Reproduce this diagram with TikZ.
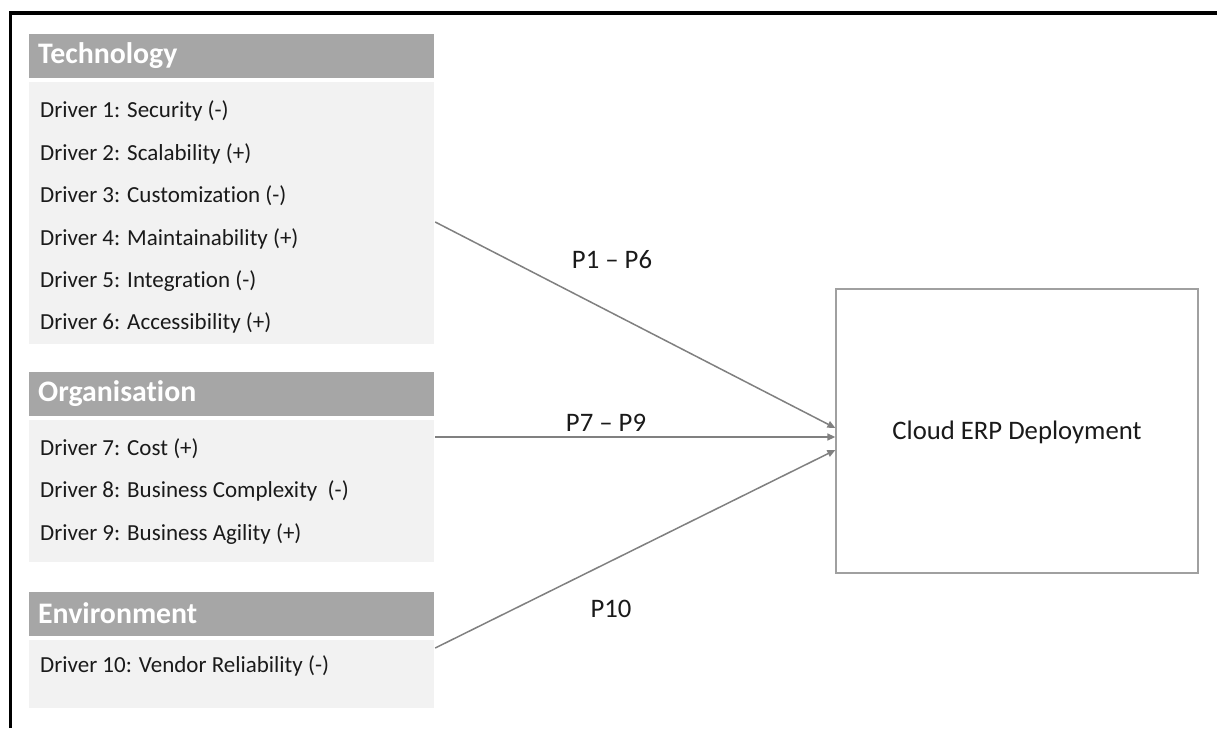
\documentclass[tikz,border=0pt]{standalone}
\usepackage{fontspec}
\setmainfont{Carlito}[Ligatures=NoCommon]
\usetikzlibrary{arrows.meta}
\definecolor{hdrgray}{HTML}{A6A6A6}
\definecolor{bodygray}{HTML}{F2F2F2}
\definecolor{arrgray}{HTML}{808080}
\definecolor{boxgray}{HTML}{A0A0A0}
\definecolor{txt}{HTML}{1A1A1A}
\tikzset{
  hdr/.style={fill=hdrgray, draw=none, minimum width=405pt, minimum height=44pt, inner sep=0pt},
  hdrtext/.style={anchor=west, inner sep=0pt, text=white, font=\fontsize{29.8}{34}\selectfont\bfseries},
  body/.style={fill=bodygray, draw=none, minimum width=405pt, inner sep=0pt},
  drv/.style={anchor=west, inner sep=0pt, text=txt, font=\fontsize{23}{27}\selectfont},
  lbl/.style={inner sep=0pt, text=txt, font=\fontsize{26.7}{30}\selectfont},
  conn/.style={draw=arrgray, line width=1.5pt, -{Triangle[length=8pt,width=7pt]}},
  target/.style={draw=boxgray, line width=1.3pt, fill=white, minimum width=362pt, minimum height=284pt, inner sep=0pt}
}
\begin{document}
\begin{tikzpicture}[x=1pt,y=-1pt]
\useasboundingbox[fill=white] (0,0) rectangle (1217,728);
% frame
\draw[line width=3.5pt, black] (10.5,728) -- (10.5,13) -- (1217,13);
% Technology
\node[hdr] (tech) at (231.5,56) {};
\node[hdrtext] (techt) at (38,56) {Technology};
\node[body, minimum height=262pt] (techbody) at (231.5,213) {};
\node[drv] (d1) at (40,111) {Driver 1: Security (-)};
\node[drv] (d2) at (40,154) {Driver 2: Scalability (+)};
\node[drv] (d3) at (40,196) {Driver 3: Customization (-)};
\node[drv] (d4) at (40,239) {Driver 4: Maintainability (+)};
\node[drv] (d5) at (40,281) {Driver 5: Integration (-)};
\node[drv] (d6) at (40,323) {Driver 6: Accessibility (+)};
% Organisation
\node[hdr] (org) at (231.5,394) {};
\node[hdrtext] (orgt) at (38,394) {Organisation};
\node[body, minimum height=142pt] (orgbody) at (231.5,491) {};
\node[drv] (d7) at (40,449) {Driver 7: Cost (+)};
\node[drv] (d8) at (40,491) {Driver 8: Business Complexity\ \ (-)};
\node[drv] (d9) at (40,534) {Driver 9: Business Agility (+)};
% Environment
\node[hdr] (env) at (231.5,613.5) {};
\node[hdrtext] (envt) at (38,613.5) {Environment};
\node[body, minimum height=68pt] (envbody) at (231.5,674) {};
\node[drv] (d10) at (40,666) {Driver 10: Vendor Reliability (-)};
% Target
\node[target] (cloud) at (1017,431) {};
\node[lbl] (cloudt) at (1017,432) {Cloud ERP Deployment};
% connectors
\draw[conn] ([xshift=1pt,yshift=-9pt]techbody.east) -- ([yshift=3pt]cloud.west);
\draw[conn] ([xshift=1pt,yshift=54pt]orgbody.east) -- ([yshift=-6pt]cloud.west);
\draw[conn] ([xshift=1pt,yshift=26pt]envbody.east) -- ([yshift=-19pt]cloud.west);
% labels
\node[lbl] (p16) at (612,260) {P1 – P6};
\node[lbl] (p79) at (606,423) {P7 – P9};
\node[lbl] (p10) at (611,609) {P10};
\end{tikzpicture}
\end{document}
